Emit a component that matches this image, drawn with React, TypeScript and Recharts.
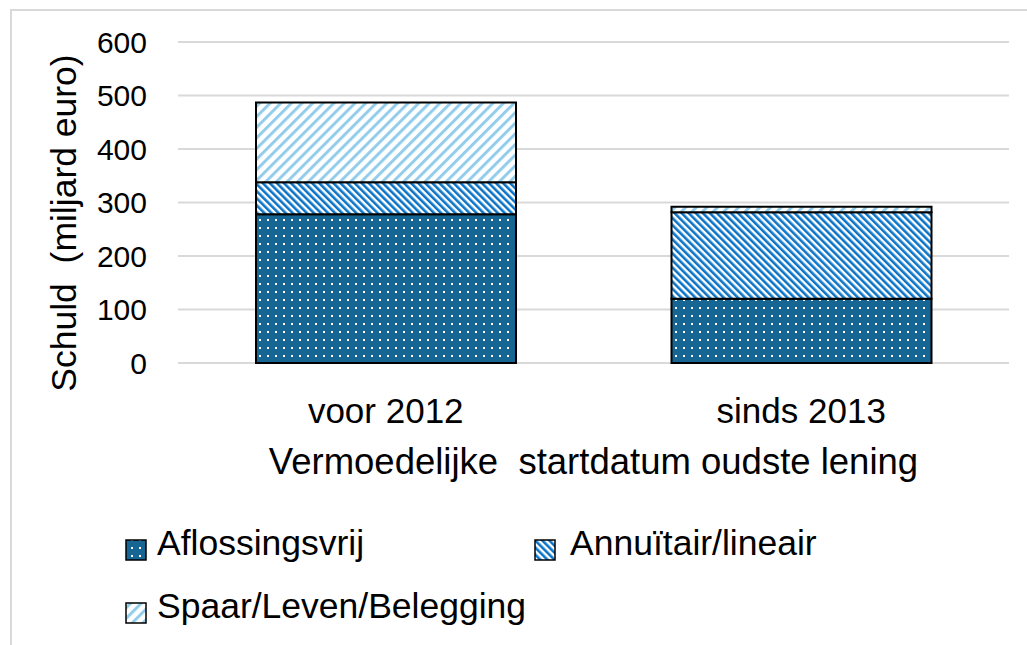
import { BarChart, Bar, XAxis, YAxis, CartesianGrid, Legend, Label } from 'recharts';

const categories = ['voor 2012', 'sinds 2013'];
const aflossingsvrij = [278, 120];
const annuitair = [60, 162];
const spaar = [149, 10];
const yTicks = [0, 100, 200, 300, 400, 500, 600];

const seriesNames = ['Aflossingsvrij', 'Annuïtair/lineair', 'Spaar/Leven/Belegging'];

const data = categories.map((c, i) => ({
    name: c,
    afl: aflossingsvrij[i],
    ann: annuitair[i],
    spaar: spaar[i],
}));

const font = '"Liberation Sans", Arial, sans-serif';

const legendPos = [
    { x: 126, y: 540, tx: 157, ty: 555 },
    { x: 535, y: 540, tx: 570, ty: 555 },
    { x: 126, y: 603, tx: 157, ty: 618 },
];

const LegendContent = (props: any) => {
    const payload = props.payload || [];
    return (
        <svg width={1027} height={645} style={{ display: 'block' }}>
            {payload.map((p: any, i: number) => {
                const pos = legendPos[i];
                if (!pos) return null;
                return (
                    <g key={p.value}>
                        <rect x={pos.x} y={pos.y} width={20} height={20} fill={p.color} stroke='#000' strokeWidth={1.5} />
                        <text x={pos.tx} y={pos.ty} fontSize={35.5} fontFamily={font} fill='#000'>{p.value}</text>
                    </g>
                );
            })}
        </svg>
    );
};

export default function App() {
    return (
        <div style={{ position: 'fixed', left: 0, top: 0, width: 1027, height: 645, overflow: 'hidden', background: '#fff' }}>
            <div style={{ position: 'absolute', left: 10, top: 9, width: 1100, height: 1000, border: '2px solid #d9d9d9', boxSizing: 'border-box' }} />
            <div style={{ position: 'absolute', left: 0, top: 0 }}>
                <BarChart width={1027} height={645} data={data} margin={{ top: 42, right: 18, bottom: 162, left: 0 }} barCategoryGap={78}>
                    <defs>
                        <pattern id='pDots' width={8} height={8} patternUnits='userSpaceOnUse'>
                            <rect width={8} height={8} fill='#176592' />
                            <rect x={3} y={3} width={2} height={2} fill='#ffffff' />
                        </pattern>
                        <pattern id='pAnn' width={5} height={5} patternUnits='userSpaceOnUse' patternTransform='rotate(-45)'>
                            <rect width={5} height={5} fill='#ffffff' />
                            <rect width={2.6} height={5} fill='#0b74c6' />
                        </pattern>
                        <pattern id='pSpaar' width={7.5} height={7.5} patternUnits='userSpaceOnUse' patternTransform='rotate(45)'>
                            <rect width={7.5} height={7.5} fill='#ffffff' />
                            <rect width={3} height={7.5} fill='#93cdeb' />
                        </pattern>
                    </defs>
                    <CartesianGrid vertical={false} stroke='#d9d9d9' strokeWidth={2} />
                    <XAxis
                        dataKey='name'
                        axisLine={false}
                        tickLine={false}
                        tickSize={0}
                        tickMargin={35}
                        height={120}
                        tick={{ fontSize: 35, fontFamily: font, fill: '#000' }}
                    >
                        <Label
                            content={({ viewBox }: any) => (
                                <text x={viewBox.x + viewBox.width / 2} y={474} textAnchor='middle' fontSize={36.5} fontFamily={font} fill='#000' style={{ whiteSpace: 'pre' }}>
                                    {'Vermoedelijke  startdatum oudste lening'}
                                </text>
                            )}
                        />
                    </XAxis>
                    <YAxis
                        domain={[0, 600]}
                        ticks={yTicks}
                        axisLine={false}
                        tickLine={false}
                        tickSize={0}
                        tickMargin={31}
                        width={178}
                        tick={{ fontSize: 30, fontFamily: font, fill: '#000' }}
                    >
                        <Label
                            content={() => (
                                <text x={76} y={223} transform='rotate(-90 76 223)' textAnchor='middle' fontSize={35.5} fontFamily={font} fill='#000' style={{ whiteSpace: 'pre' }}>
                                    {'Schuld  (miljard euro)'}
                                </text>
                            )}
                        />
                    </YAxis>
                    <Legend
                        layout='vertical'
                        align='center'
                        verticalAlign='middle'
                        wrapperStyle={{ left: 0, top: 0, width: 1027, height: 645, pointerEvents: 'none' }}
                        content={LegendContent}
                    />
                    <Bar dataKey='afl' name={seriesNames[0]} stackId='a' fill='url(#pDots)' stroke='#000' strokeWidth={2} isAnimationActive={false} />
                    <Bar dataKey='ann' name={seriesNames[1]} stackId='a' fill='url(#pAnn)' stroke='#000' strokeWidth={2} isAnimationActive={false} />
                    <Bar dataKey='spaar' name={seriesNames[2]} stackId='a' fill='url(#pSpaar)' stroke='#000' strokeWidth={2} isAnimationActive={false} />
                </BarChart>
            </div>
        </div>
    );
}
